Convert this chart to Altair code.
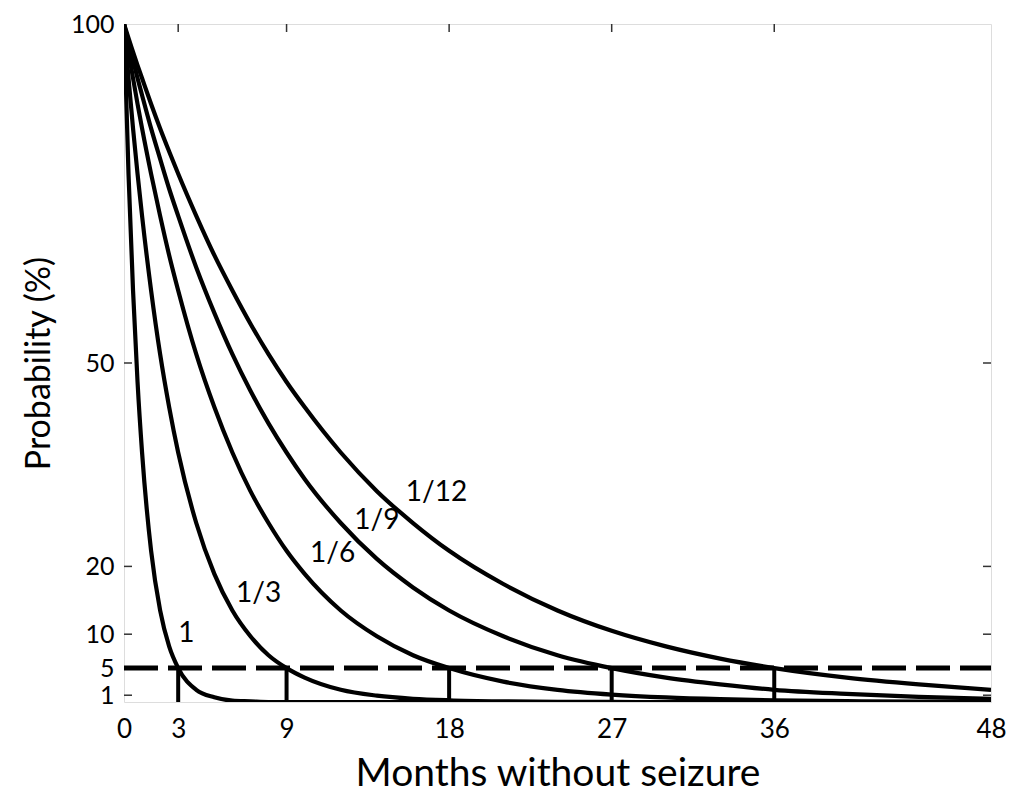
import altair as alt
import pandas as pd

# Months without seizure (x) at which the curves were read
months = [0, 0.25, 0.5, 0.75, 1, 1.5, 2, 2.5, 3, 4, 5, 6, 7, 8, 9, 10, 12, 14,
          16, 18, 21, 24, 27, 30, 33, 36, 40, 44, 48]

# Probability (%)
p_1 = [100, 77.9, 60.7, 47.2, 36.8, 22.3, 13.5, 8.2, 5.0, 1.8, 0.7, 0.2, 0.1, 0, 0, 0, 0, 0,
       0, 0, 0, 0, 0, 0, 0, 0, 0, 0, 0]
p_1_3 = [100, 92.0, 84.6, 77.9, 71.7, 60.7, 51.3, 43.5, 36.8, 26.4, 18.9, 13.5, 9.7, 6.9, 5.0,
         3.6, 1.8, 0.94, 0.48, 0.25, 0.09, 0.03, 0.01, 0, 0, 0, 0, 0, 0]
p_1_6 = [100, 95.9, 92.0, 88.2, 84.6, 77.9, 71.7, 65.9, 60.7, 51.3, 43.5, 36.8, 31.1, 26.4,
         22.3, 18.9, 13.5, 9.7, 6.9, 5.0, 3.0, 1.8, 1.1, 0.67, 0.41, 0.25, 0.13, 0.07, 0.03]
p_1_9 = [100, 97.3, 94.6, 92.0, 89.5, 84.6, 80.1, 75.7, 71.7, 64.1, 57.4, 51.3, 45.9, 41.1,
         36.8, 32.9, 26.4, 21.1, 16.9, 13.5, 9.7, 6.9, 5.0, 3.6, 2.6, 1.8, 1.2, 0.75, 0.48]
p_1_12 = [100, 97.9, 95.9, 93.9, 92.0, 88.2, 84.6, 81.2, 77.9, 71.7, 65.9, 60.7, 55.8, 51.3,
          47.2, 43.5, 36.8, 31.1, 26.4, 22.3, 17.4, 13.5, 10.5, 8.2, 6.4, 5.0, 3.6, 2.6, 1.8]

series_names = ["1", "1/3", "1/6", "1/9", "1/12"]
series_values = [p_1, p_1_3, p_1_6, p_1_9, p_1_12]

# Curve labels
label_text = ["1", "1/3", "1/6", "1/9", "1/12"]
label_month = [3.45, 7.45, 11.55, 14.0, 17.3]
label_value = [10.1, 16.0, 21.8, 26.7, 30.8]

# Threshold and months at which each curve reaches it
threshold = 5
cross_months = [3, 9, 18, 27, 36]

# Tick values
x_ticks = [0, 3, 9, 18, 27, 36, 48]
y_ticks = [1, 5, 10, 20, 50, 100]
y_inner_ticks = [1, 5, 10, 20, 50]
x_inner_ticks = [3, 9, 18, 27, 36]

W, H = 867, 678
FONT = "Lato"

rows = []
for name, vals in zip(series_names, series_values):
    for m, v in zip(months, vals):
        rows.append({"month": m, "p": v, "rate": name})
curve_df = pd.DataFrame(rows)

xscale = alt.Scale(domain=[0, 48], nice=False, zero=False)
yscale = alt.Scale(domain=[0, 100], nice=False, zero=False)

x_axis = alt.Axis(values=x_ticks, tickSize=0, labelPadding=14, domain=False, grid=False,
                  labelFontSize=26, labelFont=FONT, labelColor="black",
                  titleFontSize=39, titleFont=FONT, titleFontWeight="normal",
                  titleColor="black", titlePadding=12, labelFlush=False)
y_axis = alt.Axis(values=y_ticks, tickSize=0, labelPadding=10, domain=False, grid=False,
                  labelFontSize=25, labelFont=FONT, labelColor="black", labelOverlap=False,
                  titleFontSize=34, titleFont=FONT, titleFontWeight="normal",
                  titleColor="black", titlePadding=14, labelFlush=False)

curves = alt.Chart(curve_df).mark_line(color="black", strokeWidth=4.2,
                                       interpolate="monotone", clip=True).encode(
    x=alt.X("month:Q", scale=xscale, axis=x_axis, title="Months without seizure"),
    y=alt.Y("p:Q", scale=yscale, axis=y_axis, title="Probability (%)"),
    detail="rate:N",
)

dash_df = pd.DataFrame({"m0": [x_ticks[0]], "m1": [x_ticks[-1]], "p": [threshold]})
dashed = alt.Chart(dash_df).mark_rule(color="black", strokeWidth=5, strokeDash=[34, 10]).encode(
    x=alt.X("m0:Q", scale=xscale), x2="m1:Q", y=alt.Y("p:Q", scale=yscale)
)

vr_df = pd.DataFrame({"m": cross_months, "p0": [0] * len(cross_months),
                      "p1": [threshold] * len(cross_months)})
verticals = alt.Chart(vr_df).mark_rule(color="black", strokeWidth=4).encode(
    x=alt.X("m:Q", scale=xscale), y=alt.Y("p0:Q", scale=yscale), y2="p1:Q"
)

lab_df = pd.DataFrame({"t": label_text, "m": label_month, "p": label_value})
labels = alt.Chart(lab_df).mark_text(font=FONT, fontSize=28, color="black").encode(
    x=alt.X("m:Q", scale=xscale), y=alt.Y("p:Q", scale=yscale), text="t:N"
)

yt_df = pd.DataFrame({"p": y_inner_ticks})
left_ticks = alt.Chart(yt_df).mark_rule(color="#333", strokeWidth=1.5).encode(
    y=alt.Y("p:Q", scale=yscale), x=alt.value(0), x2=alt.value(8)
)
right_ticks = alt.Chart(yt_df).mark_rule(color="#333", strokeWidth=1.5).encode(
    y=alt.Y("p:Q", scale=yscale), x=alt.value(W - 8), x2=alt.value(W)
)
xt_df = pd.DataFrame({"m": x_inner_ticks})
top_ticks = alt.Chart(xt_df).mark_rule(color="#333", strokeWidth=1.5).encode(
    x=alt.X("m:Q", scale=xscale), y=alt.value(0), y2=alt.value(8)
)
bottom_ticks = alt.Chart(xt_df).mark_rule(color="#333", strokeWidth=1.5).encode(
    x=alt.X("m:Q", scale=xscale), y=alt.value(H - 8), y2=alt.value(H)
)

chart = alt.layer(
    left_ticks, right_ticks, top_ticks, bottom_ticks,
    curves, dashed, verticals, labels
).properties(
    width=W, height=H,
    autosize=alt.AutoSizeParams(type="none"),
    padding={"left": 116, "top": 16, "right": 15, "bottom": 92},
).configure_view(
    stroke="#333", strokeWidth=1.5
).configure(background="white")

chart.save("out.html", embed_options={"renderer": "svg", "actions": False})
